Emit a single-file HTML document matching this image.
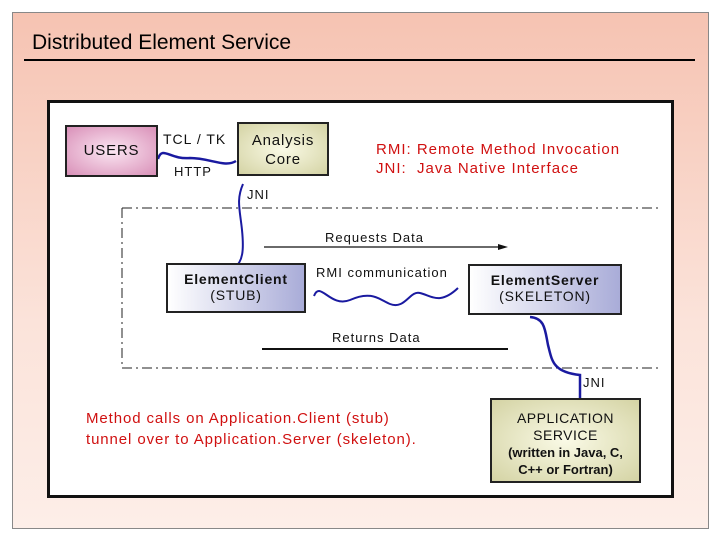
<!DOCTYPE html>
<html><head><style>
body{margin:0;width:720px;height:540px;background:#fff;position:relative;overflow:hidden;font-family:"Liberation Sans",sans-serif}
.frame{position:absolute;left:12px;top:12px;width:695px;height:515px;border:1px solid #888;background:linear-gradient(#f6c3b2,#fbe3da 60%,#fdeee8)}
.title{position:absolute;left:32px;top:31px;font-size:21px;color:#000}
.rule{position:absolute;left:24px;top:59px;width:671px;height:2px;background:#000}
.panel{position:absolute;left:47px;top:100px;width:621px;height:392px;border:3px solid #111;background:#fff}
.box{position:absolute;border:2px solid #222;text-align:center;box-sizing:border-box;color:#111;letter-spacing:0.8px}
.t{position:absolute;font-size:13px;color:#111;white-space:nowrap;letter-spacing:1px}
.red{color:#d01010;font-size:15px}
</style></head><body>
<div class="frame"></div>
<div class="title">Distributed Element Service</div>
<div class="rule"></div>
<div class="panel"></div>
<svg style="position:absolute;left:0;top:0" width="720" height="540">
<path d="M122 208 V368 M122 208 H660 M122 368 H660" stroke="#222" stroke-width="1" fill="none" stroke-dasharray="10,4,2,4"/>
<line x1="264" y1="247" x2="505" y2="247" stroke="#111" stroke-width="1.3"/>
<polygon points="498,244 508,247 498,250" fill="#111"/>
<line x1="262" y1="349" x2="508" y2="349" stroke="#111" stroke-width="2"/>
<path d="M158 159 C162 145,170 160,190 158 C210 158,225 168,236 161" stroke="#1a1aa0" stroke-width="2.5" fill="none"/>
<path d="M243 184 C236 200,240 210,242 230 C244 250,243 262,234 268" stroke="#1a1aa0" stroke-width="2" fill="none"/>
<path d="M314 296 C320 280,330 308,350 300 C372 290,380 300,390 304 C405 310,410 290,420 293 C432 296,440 305,458 288" stroke="#1a1aa0" stroke-width="2" fill="none"/>
<path d="M530 317 C545 318,545 330,548 345 C552 360,552 372,580 375 L580 398" stroke="#1a1aa0" stroke-width="2.5" fill="none"/>
</svg>
<div class="box" style="left:65px;top:125px;width:93px;height:52px;background:radial-gradient(#fbe6f2,#d990b8);font-size:15px;line-height:48px">USERS</div>
<div class="box" style="left:237px;top:122px;width:92px;height:54px;background:radial-gradient(#fafae6,#d4d3a4);font-size:15px;line-height:19px;padding-top:7px">Analysis<br>Core</div>
<div class="box" style="left:166px;top:263px;width:140px;height:50px;background:linear-gradient(90deg,#fff,#a9acd8);font-size:14px;padding-top:6px"><b>ElementClient</b><br>(STUB)</div>
<div class="box" style="left:468px;top:264px;width:154px;height:51px;background:linear-gradient(90deg,#fff,#a9acd8);font-size:14px;padding-top:6px"><b>ElementServer</b><br>(SKELETON)</div>
<div class="box" style="left:490px;top:398px;width:151px;height:85px;background:radial-gradient(#fafae6,#d4d3a4);font-size:14px;line-height:17px;padding-top:10px;letter-spacing:0.5px">APPLICATION<br>SERVICE<br><span style="font-size:13px;line-height:15px;font-weight:bold;letter-spacing:0">(written in Java, C,<br>C++ or Fortran)</span></div>
<div class="t" style="left:163px;top:131px;font-size:14px">TCL / TK</div>
<div class="t" style="left:174px;top:164px">HTTP</div>
<div class="t" style="left:247px;top:187px">JNI</div>
<div class="t" style="left:325px;top:230px">Requests Data</div>
<div class="t" style="left:316px;top:265px">RMI communication</div>
<div class="t" style="left:332px;top:330px">Returns Data</div>
<div class="t" style="left:583px;top:375px">JNI</div>
<div class="t red" style="left:376px;top:141px">RMI: Remote Method Invocation</div>
<div class="t red" style="left:376px;top:160px">JNI:&nbsp; Java Native Interface</div>
<div class="t red" style="left:86px;top:410px;letter-spacing:0.9px">Method calls on Application.Client (stub)</div>
<div class="t red" style="left:86px;top:431px;letter-spacing:0.9px">tunnel over to Application.Server (skeleton).</div>
</body></html>
